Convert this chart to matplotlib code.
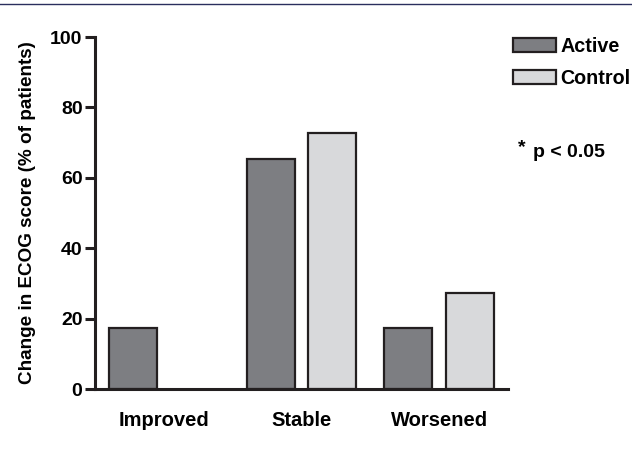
import numpy as np
import matplotlib
matplotlib.use('Agg')
from matplotlib import pyplot as plt
from matplotlib.lines import Line2D

categories = ["Improved", "Stable", "Worsened"]
active = [17.4, 65.2, 17.4]
control = [0.0, 72.7, 27.3]
series_names = ["Active", "Control"]
yticks = [0, 20, 40, 60, 80, 100]

plt.rcParams['font.family'] = ['Liberation Sans', 'DejaVu Sans']
plt.rcParams['font.weight'] = 'bold'

edge = '#231f20'
fig = plt.figure(figsize=(6.32, 4.54), dpi=100)
ax = fig.add_axes([95/632, 65/454, (508-95)/632, (389-37)/454])

x = np.arange(len(categories))
w = 0.349
off = 0.225
bars_a = ax.bar(x - off, active, w, color='#7d7e82', edgecolor=edge, linewidth=1.6)
bars_c = ax.bar(x + off, control, w, color='#d8d9db', edgecolor=edge, linewidth=1.6)
# a zero-height bar shows no outline in the original
for b, v in zip(bars_c, control):
    if v == 0:
        b.set_visible(False)

ax.set_xlim(-0.5, 2.5)
ax.set_ylim(0, 100)
ax.set_yticks(yticks)
ax.set_xticks(x)
ax.set_xticklabels(categories, fontsize=14.5, fontweight='bold')
ax.tick_params(axis='x', length=0, pad=16)
ax.tick_params(axis='y', length=7, width=2.2, color=edge, pad=2, labelsize=14)
for lab in ax.get_yticklabels():
    lab.set_fontweight('bold')
for s in ['top', 'right']:
    ax.spines[s].set_visible(False)
for s in ['left', 'bottom']:
    ax.spines[s].set_linewidth(2.2)
    ax.spines[s].set_color(edge)
ax.set_ylabel('Change in ECOG score (% of patients)', fontsize=13.6, fontweight='bold', labelpad=10)

leg = ax.legend([bars_a[1], bars_c[1]], series_names, loc='upper left',
                bbox_to_anchor=(513/632, 1 - 37/454), bbox_transform=fig.transFigure,
                frameon=False, borderpad=0, borderaxespad=0, handlelength=2.2, handleheight=0.7,
                handletextpad=0.22, labelspacing=0.65, prop={'weight': 'bold', 'size': 14.2})

fig.text(518/632, 1 - 148/454, '*', fontsize=14, fontweight='bold', ha='left', va='center')
fig.text(533/632, 1 - 157/454, 'p < 0.05', fontsize=14, fontweight='bold', ha='left', va='baseline')

fig.add_artist(Line2D([0, 1], [1 - 3.5/454, 1 - 3.5/454], transform=fig.transFigure, color='#2a2f5e', linewidth=1.0))

fig.savefig('out.png', dpi=100)
